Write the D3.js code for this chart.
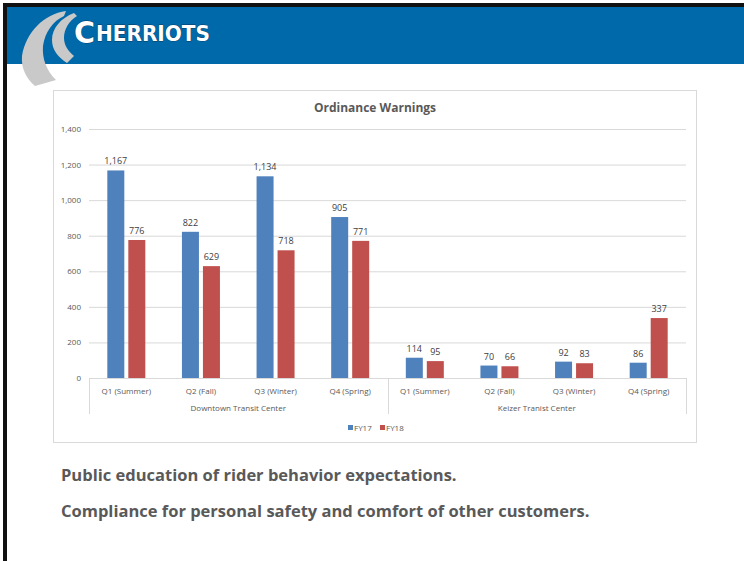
<!DOCTYPE html>
<html>
<head>
<meta charset="utf-8">
<script src="https://cdn.jsdelivr.net/npm/d3@7"></script>
<style>
  body { margin: 0; background: #fff; }
  svg { display: block; }
</style>
</head>
<body>
<svg id="slide" width="744" height="561"></svg>
<script>
// chart data
const groups = ["Downtown Transit Center", "Keizer Tranist Center"];
const quarters = ["Q1 (Summer)", "Q2 (Fall)", "Q3 (Winter)", "Q4 (Spring)"];
const series = ["FY17", "FY18"];
const fy17 = [1167, 822, 1134, 905, 114, 70, 92, 86];
const fy18 = [776, 629, 718, 771, 95, 66, 83, 337];
const yTicks = [0, 200, 400, 600, 800, 1000, 1200, 1400];
const notes = [
    "Public education of rider behavior expectations.",
    "Compliance for personal safety and comfort of other customers."
];

const colors = {FY17: "#4f81bd", FY18: "#c0504d"};
const fmt = d3.format(",");

const svg = d3.select("#slide");

// slide frame + header
svg.append("rect").attr("x", 3).attr("y", 3).attr("width", 741).attr("height", 4).attr("fill", "#111");
svg.append("rect").attr("x", 3).attr("y", 3).attr("width", 4).attr("height", 558).attr("fill", "#111");
svg.append("rect").attr("x", 7).attr("y", 7).attr("width", 737).attr("height", 57).attr("fill", "#0069aa");

// logo swooshes
const logo = svg.append("g").attr("fill", "#c9c9c9");
logo.append("path")
    .attr("d", "M66,11 C44,14 26,32 22,56 C21,68 26,78 35,86 L56,80 C46,70 42,58 43,46 C45,32 53,21 64,16 Z");
logo.append("path")
    .attr("d", "M74,13 C61,18 52,28 52,40 C52,50 58,57 67,63 L74,56 C68,51 64,45 64,38 C64,29 69,21 77,16 Z");

const brand = svg.append("text")
    .attr("fill", "#fff")
    .attr("stroke", "#0b3a63")
    .attr("stroke-width", 0.8)
    .attr("paint-order", "stroke")
    .attr("font-family", "DejaVu Sans, sans-serif")
    .attr("font-weight", "bold");
brand.append("tspan").attr("x", 74).attr("y", 43).attr("font-size", 31)
    .attr("textLength", 21).attr("lengthAdjust", "spacingAndGlyphs").text("C");
brand.append("tspan").attr("x", 96).attr("y", 41).attr("font-size", 21)
    .attr("textLength", 114).attr("lengthAdjust", "spacingAndGlyphs").text("HERRIOTS");

// chart box
svg.append("rect")
    .attr("x", 53.5).attr("y", 90.5).attr("width", 643).attr("height", 352)
    .attr("fill", "#fff").attr("stroke", "#d9d9d9");

const chart = svg.append("g").attr("font-family", "Open Sans, sans-serif");

chart.append("text")
    .attr("x", 375).attr("y", 112)
    .attr("text-anchor", "middle")
    .attr("font-size", 12).attr("font-weight", "bold")
    .attr("fill", "#595959")
    .text("Ordinance Warnings");

const plotLeft = 89, plotRight = 686, plotTop = 129, plotBottom = 378;

const rows = [];
groups.forEach((g, gi) => quarters.forEach((q, qi) => {
    const i = gi * quarters.length + qi;
    rows.push({key: g + "|" + q, group: g, quarter: q, FY17: fy17[i], FY18: fy18[i]});
}));

const x0 = d3.scaleBand().domain(rows.map(d => d.key)).range([plotLeft, plotRight]);
const cw = x0.bandwidth();
const x1 = d3.scaleBand().domain(series).range([cw / 2 - 19, cw / 2 + 19]).paddingInner(4 / 21);
const y = d3.scaleLinear().domain([0, 1400]).range([plotBottom, plotTop]);

// gridlines + y labels
const yAxis = d3.axisLeft(y).tickValues(yTicks).tickFormat(fmt).tickSize(-(plotRight - plotLeft)).tickPadding(8);
const yg = chart.append("g").attr("transform", "translate(" + plotLeft + ",0)").call(yAxis);
yg.select(".domain").remove();
yg.selectAll(".tick line").attr("stroke", "#d9d9d9");
yg.selectAll(".tick text").attr("fill", "#595959").attr("font-size", 8).attr("font-family", "Open Sans, sans-serif");

// bars
const cat = chart.selectAll(".cat")
    .data(rows)
    .join("g")
    .attr("class", "cat")
    .attr("transform", d => "translate(" + x0(d.key) + ",0)");

cat.selectAll("rect")
    .data(d => series.map(s => ({s: s, v: d[s]})))
    .join("rect")
    .attr("x", d => x1(d.s))
    .attr("width", x1.bandwidth())
    .attr("y", d => y(d.v))
    .attr("height", d => y(0) - y(d.v))
    .attr("fill", d => colors[d.s]);

cat.selectAll(".lbl")
    .data(d => series.map(s => ({s: s, v: d[s]})))
    .join("text")
    .attr("class", "lbl")
    .attr("x", d => x1(d.s) + x1.bandwidth() / 2)
    .attr("y", d => y(d.v) - 6)
    .attr("text-anchor", "middle")
    .attr("font-size", 9)
    .attr("fill", "#404040")
    .text(d => fmt(d.v));

// category axis
chart.append("line")
    .attr("x1", plotLeft).attr("x2", plotRight).attr("y1", plotBottom + 0.5).attr("y2", plotBottom + 0.5)
    .attr("stroke", "#d9d9d9");

cat.append("text")
    .attr("x", cw / 2).attr("y", 394)
    .attr("text-anchor", "middle")
    .attr("font-size", 8).attr("fill", "#595959")
    .text(d => d.quarter);

const groupEdges = groups.map((g, gi) => {
    const keys = rows.filter(r => r.group === g).map(r => r.key);
    return {g: g, x0: x0(keys[0]), x1: x0(keys[keys.length - 1]) + cw};
});

chart.selectAll(".sep")
    .data([plotLeft, groupEdges[0].x1, plotRight])
    .join("line")
    .attr("class", "sep")
    .attr("x1", d => Math.round(d) + 0.5).attr("x2", d => Math.round(d) + 0.5)
    .attr("y1", plotBottom).attr("y2", 414)
    .attr("stroke", "#d9d9d9");

chart.selectAll(".grp")
    .data(groupEdges)
    .join("text")
    .attr("class", "grp")
    .attr("x", d => (d.x0 + d.x1) / 2).attr("y", 411)
    .attr("text-anchor", "middle")
    .attr("font-size", 8).attr("fill", "#595959")
    .text(d => d.g);

// legend
const leg = chart.selectAll(".leg")
    .data(series)
    .join("g")
    .attr("class", "leg")
    .attr("transform", (d, i) => "translate(" + (348 + i * 32) + ",425)");
leg.append("rect").attr("width", 5).attr("height", 5).attr("fill", d => colors[d]);
leg.append("text").attr("x", 6).attr("y", 5.5).attr("font-size", 8).attr("fill", "#595959").text(d => d);

// notes below chart
svg.selectAll(".note")
    .data(notes)
    .join("text")
    .attr("class", "note")
    .attr("x", 61).attr("y", (d, i) => 481 + i * 36)
    .attr("font-family", "Open Sans, sans-serif")
    .attr("font-size", 16.5).attr("font-weight", "bold")
    .attr("fill", "#595959")
    .text(d => d);
</script>
</body>
</html>
